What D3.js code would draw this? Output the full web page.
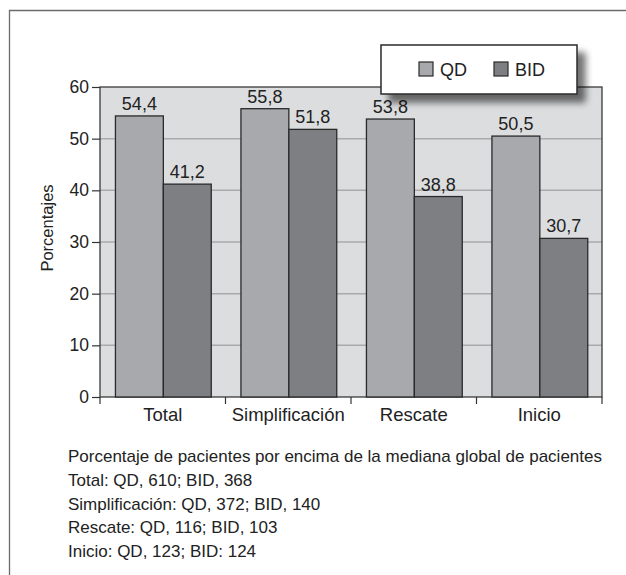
<!DOCTYPE html>
<html><head><meta charset="utf-8">
<script src="https://cdn.jsdelivr.net/npm/d3@7"></script>
<style>
html,body{margin:0;padding:0;background:#fff;}
svg{display:block;font-family:"Liberation Sans",Arial,sans-serif;}
</style></head>
<body><svg id="c" width="626" height="575"></svg>
<script>
const categories = ["Total","Simplificación","Rescate","Inicio"];
const seriesNames = ["QD","BID"];
const qd  = [54.4, 55.8, 53.8, 50.5];
const bid = [41.2, 51.8, 38.8, 30.7];
const yTicks = [0,10,20,30,40,50,60];
const valueLabels = {QD:["54,4","55,8","53,8","50,5"], BID:["41,2","51,8","38,8","30,7"]};
const captionLines = [
  "Porcentaje de pacientes por encima de la mediana global de pacientes",
  "Total: QD, 610; BID, 368",
  "Simplificación: QD, 372; BID, 140",
  "Rescate: QD, 116; BID, 103",
  "Inicio: QD, 123; BID: 124"
];
const colors = {QD:"#a8a9ac", BID:"#7e7f83"};

const svg = d3.select("#c");
const defs = svg.append("defs");
const f = defs.append("filter").attr("id","sh").attr("x","-20%").attr("y","-30%").attr("width","150%").attr("height","190%");
f.append("feGaussianBlur").attr("in","SourceAlpha").attr("stdDeviation",3.5).attr("result","b");
f.append("feOffset").attr("in","b").attr("dx",8).attr("dy",8).attr("result","o");
f.append("feComponentTransfer").attr("in","o").attr("result","o2")
  .append("feFuncA").attr("type","linear").attr("slope",0.55);
const fm = f.append("feMerge");
fm.append("feMergeNode").attr("in","o2");
fm.append("feMergeNode").attr("in","SourceGraphic");

// frame (top and left only visible)
svg.append("path").attr("d","M9.5,580V10.5H640").attr("fill","none").attr("stroke","#6a6a6a").attr("stroke-width",1.3);

const L=100, R=602, T=87, B=397;
const x = d3.scaleBand().domain(categories).range([L,R]).paddingInner(0).paddingOuter(0);
const xi = d3.scaleBand().domain(seriesNames).range([0,x.bandwidth()]).paddingInner(0).paddingOuter(0.31).align(0.52);
const y = d3.scaleLinear().domain([0,60]).range([B,T]);

svg.append("rect").attr("x",L).attr("y",T).attr("width",R-L).attr("height",B-T).attr("fill","#dcdddf");
// grid
svg.append("g").selectAll("line").data(yTicks.filter(d=>d>0&&d<60)).join("line")
  .attr("x1",L).attr("x2",R).attr("y1",d=>y(d)).attr("y2",d=>y(d))
  .attr("stroke","#a9aaac").attr("stroke-width",1.5);
svg.append("rect").attr("x",L).attr("y",T).attr("width",R-L).attr("height",B-T)
  .attr("fill","none").attr("stroke","#3a3a3a").attr("stroke-width",1.3);

// bars
const data = [];
categories.forEach((c,i)=>{ data.push({c,s:"QD",v:qd[i],l:valueLabels.QD[i]}); data.push({c,s:"BID",v:bid[i],l:valueLabels.BID[i]}); });
svg.append("g").selectAll("rect").data(data).join("rect")
  .attr("x",d=>x(d.c)+xi(d.s)).attr("width",xi.bandwidth())
  .attr("y",d=>y(d.v)).attr("height",d=>y(0)-y(d.v))
  .attr("fill",d=>colors[d.s]).attr("stroke","#2a2a2a").attr("stroke-width",1.3);
svg.append("g").selectAll("text").data(data).join("text")
  .attr("x",d=>x(d.c)+xi(d.s)+xi.bandwidth()/2).attr("y",d=>y(d.v)-6)
  .attr("text-anchor","middle").attr("font-size",18).attr("fill","#222").text(d=>d.l);

// y axis
const ya = svg.append("g").attr("transform",`translate(${L},0)`)
  .call(d3.axisLeft(y).tickValues(yTicks).tickSize(8).tickPadding(3).tickFormat(d3.format("d")));
ya.select(".domain").remove();
ya.selectAll("line").attr("stroke","#333").attr("stroke-width",1.2);
ya.selectAll("text").attr("font-size",17.5).attr("fill","#222").attr("font-family","Liberation Sans, Arial, sans-serif");

// x axis ticks at band boundaries
const bounds = categories.map(c=>x(c)).concat([R]);
svg.append("g").selectAll("line").data(bounds).join("line")
  .attr("x1",d=>d).attr("x2",d=>d).attr("y1",B).attr("y2",B+7)
  .attr("stroke","#333").attr("stroke-width",1.2);
svg.append("g").selectAll("text").data(categories).join("text")
  .attr("x",d=>x(d)+x.bandwidth()/2).attr("y",B+24)
  .attr("text-anchor","middle").attr("font-size",18.5).attr("fill","#222").text(d=>d);

svg.append("text").attr("transform","translate(53,228) rotate(-90)")
  .attr("text-anchor","middle").attr("font-size",16.5).attr("fill","#222").text("Porcentajes");

// legend
const lg = svg.append("g");
lg.append("rect").attr("x",381).attr("y",45).attr("width",196).attr("height",49)
  .attr("fill","#fff").attr("stroke","#2a2a2a").attr("stroke-width",1.5).attr("filter","url(#sh)");
const lx = [419, 494];
seriesNames.forEach((s,i)=>{
  lg.append("rect").attr("x",lx[i]).attr("y",62).attr("width",14).attr("height",14)
    .attr("fill",colors[s]).attr("stroke","#2a2a2a").attr("stroke-width",1.2);
  lg.append("text").attr("x",lx[i]+21).attr("y",76).attr("font-size",18).attr("fill","#222").text(s);
});

// caption
svg.append("g").selectAll("text").data(captionLines).join("text")
  .attr("x",68).attr("y",(d,i)=>462+i*23.8).attr("font-size",17).attr("fill","#222").text(d=>d);
</script></body></html>
